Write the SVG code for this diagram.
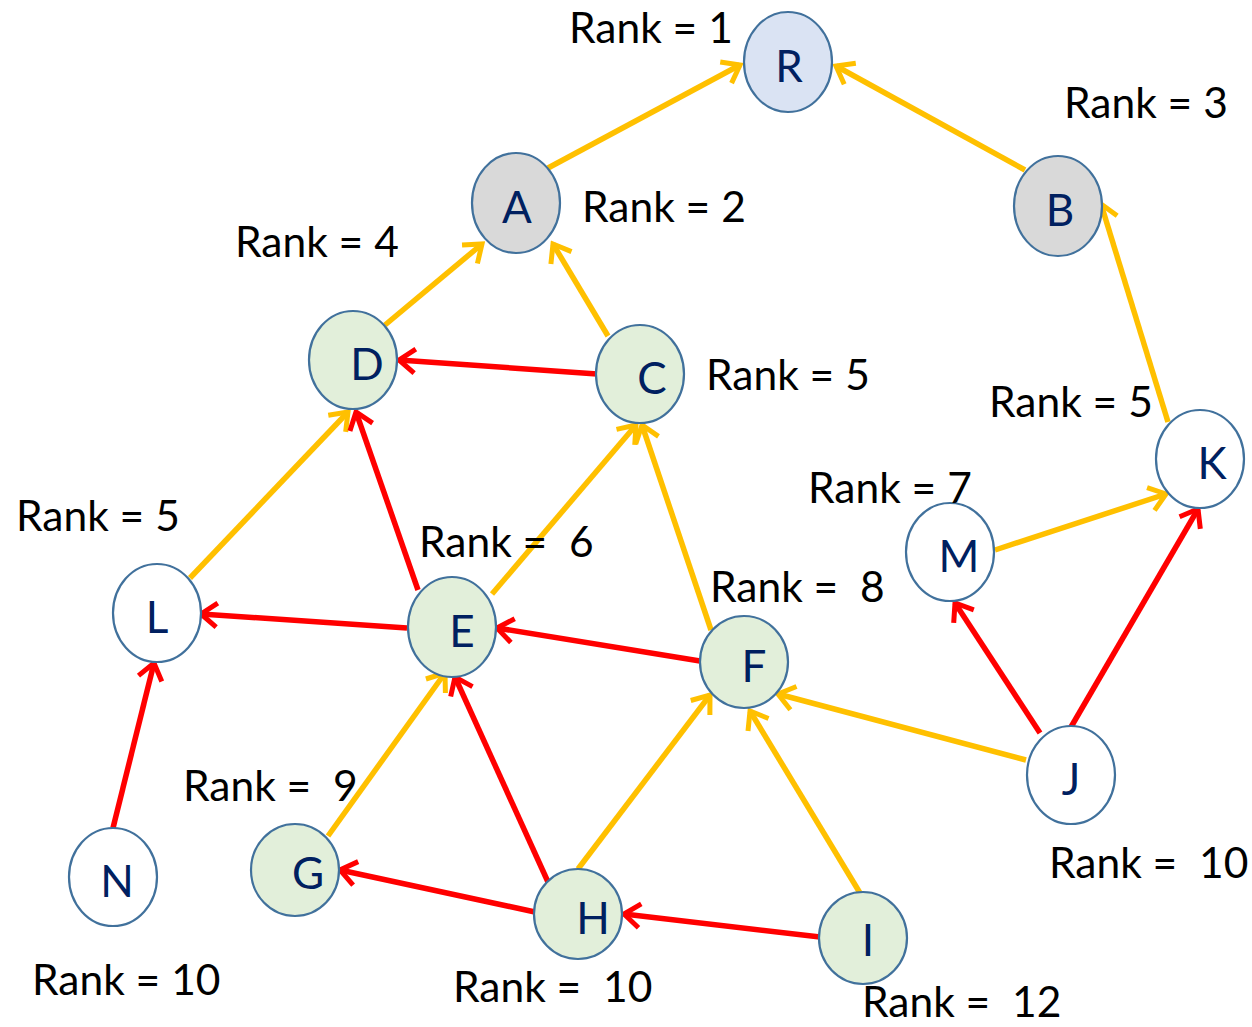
<svg xmlns="http://www.w3.org/2000/svg" width="1252" height="1027" viewBox="0 0 1252 1027">
<defs>
<style>
.n ellipse{stroke:#41719C;stroke-width:2.2}
.blue{fill:#DAE3F3}.grey{fill:#D9D9D9}.green{fill:#E2EFDA}.white{fill:#FFFFFF}
.lt{font-family:Lato,"Liberation Sans",sans-serif;font-size:44px;fill:#002060;text-anchor:middle}
.rk{font-family:Lato,"Liberation Sans",sans-serif;font-size:42.5px;fill:#000}
.y{stroke:#FFC000;stroke-width:5.5;fill:none;marker-end:url(#ay)}
.r{stroke:#FF0000;stroke-width:5.5;fill:none;marker-end:url(#ar)}
</style>
<marker id="ay" markerUnits="userSpaceOnUse" viewBox="-22 -16 26 32" markerWidth="26" markerHeight="32" refX="0" refY="0" orient="auto"><path d="M-16,-12 L0,0 L-16,12" fill="none" stroke="#FFC000" stroke-width="5"/></marker>
<marker id="ar" markerUnits="userSpaceOnUse" viewBox="-22 -16 26 32" markerWidth="26" markerHeight="32" refX="0" refY="0" orient="auto"><path d="M-16,-12 L0,0 L-16,12" fill="none" stroke="#FF0000" stroke-width="5"/></marker>
</defs>
<rect width="1252" height="1027" fill="#fff"/>
<g id="connectors">
<line class="y" x1="548" y1="168" x2="740" y2="65"/>
<line class="y" x1="1025" y1="170" x2="836" y2="66"/>
<line class="y" x1="385" y1="325" x2="482" y2="244"/>
<line class="y" x1="608" y1="336" x2="553" y2="244"/>
<line class="r" x1="597" y1="374" x2="399" y2="360"/>
<line class="y" x1="190" y1="578" x2="348" y2="412"/>
<line class="r" x1="418" y1="590" x2="356" y2="412"/>
<line class="y" x1="492" y1="594" x2="636" y2="425"/>
<line class="y" x1="711" y1="630" x2="642" y2="425"/>
<line class="r" x1="407" y1="628" x2="201" y2="614"/>
<line class="r" x1="700" y1="661" x2="497" y2="628"/>
<line class="r" x1="113" y1="828" x2="154" y2="663"/>
<line class="y" x1="328" y1="836" x2="445" y2="673"/>
<line class="r" x1="548" y1="882" x2="455" y2="677"/>
<line class="r" x1="535" y1="912" x2="340" y2="870"/>
<line class="y" x1="578" y1="869" x2="710" y2="695"/>
<line class="y" x1="860" y1="893" x2="750" y2="711"/>
<line class="r" x1="820" y1="937" x2="624" y2="914"/>
<line class="y" x1="1026" y1="760" x2="778" y2="694"/>
<line class="r" x1="1040" y1="733" x2="955" y2="603"/>
<line class="r" x1="1071" y1="727" x2="1198" y2="509"/>
<line class="y" x1="995" y1="550" x2="1166" y2="494"/>
<line class="y" x1="1168" y1="422" x2="1101" y2="204"/>
</g>
<g id="R" class="n"><ellipse class="blue" cx="788" cy="62" rx="44" ry="50"/><text class="lt" x="789" y="82">R</text></g>
<g id="A" class="n"><ellipse class="grey" cx="516" cy="203" rx="44" ry="50"/><text class="lt" x="517" y="223">A</text></g>
<g id="B" class="n"><ellipse class="grey" cx="1058" cy="206" rx="44" ry="50"/><text class="lt" x="1060" y="226">B</text></g>
<g id="D" class="n"><ellipse class="green" cx="353" cy="360" rx="44" ry="49"/><text class="lt" x="367" y="380">D</text></g>
<g id="C" class="n"><ellipse class="green" cx="640" cy="374" rx="44" ry="49"/><text class="lt" x="652" y="394">C</text></g>
<g id="K" class="n"><ellipse class="white" cx="1200" cy="459" rx="44" ry="49"/><text class="lt" x="1212" y="479">K</text></g>
<g id="M" class="n"><ellipse class="white" cx="950" cy="552" rx="44" ry="49"/><text class="lt" x="959" y="572">M</text></g>
<g id="L" class="n"><ellipse class="white" cx="157" cy="613" rx="44" ry="49"/><text class="lt" x="157" y="633">L</text></g>
<g id="E" class="n"><ellipse class="green" cx="452" cy="627" rx="44" ry="50"/><text class="lt" x="462" y="647">E</text></g>
<g id="F" class="n"><ellipse class="green" cx="744" cy="662" rx="44" ry="46"/><text class="lt" x="754" y="682">F</text></g>
<g id="J" class="n"><ellipse class="white" cx="1071" cy="775" rx="44" ry="49"/><text class="lt" x="1071" y="795">J</text></g>
<g id="N" class="n"><ellipse class="white" cx="113" cy="877" rx="44" ry="49"/><text class="lt" x="117" y="897">N</text></g>
<g id="G" class="n"><ellipse class="green" cx="295" cy="870" rx="44" ry="46"/><text class="lt" x="308" y="889">G</text></g>
<g id="H" class="n"><ellipse class="green" cx="578" cy="914" rx="44" ry="45"/><text class="lt" x="593" y="934">H</text></g>
<g id="I" class="n"><ellipse class="green" cx="863" cy="938" rx="44" ry="46"/><text class="lt" x="868" y="956">I</text></g>
<g id="labels">
<text class="rk" x="569" y="43">Rank = 1</text>
<text class="rk" x="1064" y="118">Rank = 3</text>
<text class="rk" x="582" y="222">Rank = 2</text>
<text class="rk" x="235" y="257">Rank = 4</text>
<text class="rk" x="706" y="390">Rank = 5</text>
<text class="rk" x="989" y="417">Rank = 5</text>
<text class="rk" x="808" y="503">Rank = 7</text>
<text class="rk" x="16" y="531">Rank = 5</text>
<text class="rk" x="419" y="557" xml:space="preserve">Rank =  6</text>
<text class="rk" x="710" y="602" xml:space="preserve">Rank =  8</text>
<text class="rk" x="183" y="801" xml:space="preserve">Rank =  9</text>
<text class="rk" x="1049" y="878" xml:space="preserve">Rank =  10</text>
<text class="rk" x="32" y="995">Rank = 10</text>
<text class="rk" x="453" y="1002" xml:space="preserve">Rank =  10</text>
<text class="rk" x="862" y="1017" xml:space="preserve">Rank =  12</text>
</g>
</svg>
